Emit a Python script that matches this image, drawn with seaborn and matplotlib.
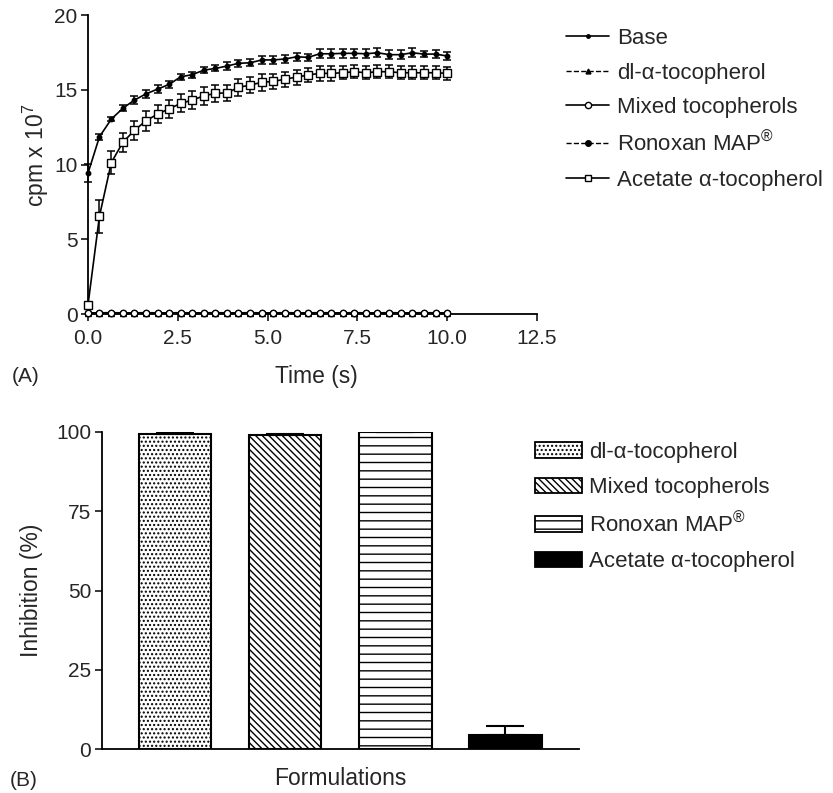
import numpy as np
import pandas as pd
import matplotlib
matplotlib.use("Agg")
import matplotlib.pyplot as plt
import seaborn as sns
from matplotlib.lines import Line2D
from matplotlib.patches import Patch

# ---------------- data ----------------
time_s = [0.00, 0.32, 0.65, 0.97, 1.29, 1.61, 1.94, 2.26, 2.58, 2.90,
          3.23, 3.55, 3.87, 4.19, 4.52, 4.84, 5.16, 5.48, 5.81, 6.13,
          6.45, 6.77, 7.10, 7.42, 7.74, 8.06, 8.39, 8.71, 9.03, 9.35,
          9.68, 10.00]

base_mean = [9.41, 11.86, 13.04, 13.76, 14.31, 14.72, 15.05, 15.36, 15.87, 16.01,
             16.32, 16.43, 16.59, 16.77, 16.81, 17.00, 17.00, 17.06, 17.21, 17.17,
             17.41, 17.41, 17.44, 17.44, 17.41, 17.48, 17.35, 17.35, 17.48, 17.39,
             17.39, 17.26]
base_sem = [0.60, 0.20, 0.15, 0.20, 0.25, 0.25, 0.25, 0.25, 0.20, 0.20,
            0.20, 0.20, 0.25, 0.25, 0.25, 0.25, 0.25, 0.25, 0.25, 0.25,
            0.30, 0.30, 0.30, 0.30, 0.30, 0.30, 0.30, 0.30, 0.30, 0.20,
            0.25, 0.25]

acetate_mean = [0.60, 6.55, 10.13, 11.48, 12.28, 12.92, 13.38, 13.73, 14.09, 14.31,
                14.60, 14.76, 14.80, 15.16, 15.32, 15.50, 15.56, 15.71, 15.85, 15.99,
                16.10, 16.10, 16.14, 16.21, 16.14, 16.21, 16.21, 16.14, 16.14, 16.14,
                16.14, 16.10]
acetate_sem = [0.20, 1.10, 0.75, 0.65, 0.65, 0.65, 0.60, 0.60, 0.60, 0.60,
               0.60, 0.55, 0.55, 0.55, 0.55, 0.55, 0.50, 0.50, 0.50, 0.50,
               0.50, 0.50, 0.45, 0.45, 0.45, 0.45, 0.45, 0.45, 0.45, 0.45,
               0.45, 0.45]

dl_mean = [0.05, 0.06, 0.05, 0.06, 0.05, 0.05, 0.06, 0.05, 0.06, 0.05,
           0.05, 0.06, 0.05, 0.06, 0.05, 0.05, 0.06, 0.05, 0.06, 0.05,
           0.05, 0.06, 0.05, 0.06, 0.05, 0.05, 0.06, 0.05, 0.06, 0.05,
           0.05, 0.06]
mixed_mean = [0.08, 0.08, 0.09, 0.08, 0.08, 0.09, 0.08, 0.08, 0.09, 0.08,
              0.08, 0.09, 0.08, 0.08, 0.09, 0.08, 0.08, 0.09, 0.08, 0.08,
              0.09, 0.08, 0.08, 0.09, 0.08, 0.08, 0.09, 0.08, 0.08, 0.09,
              0.08, 0.08]
ronoxan_mean = [0.04, 0.05, 0.04, 0.05, 0.04, 0.05, 0.04, 0.05, 0.04, 0.05,
                0.04, 0.05, 0.04, 0.05, 0.04, 0.05, 0.04, 0.05, 0.04, 0.05,
                0.04, 0.05, 0.04, 0.05, 0.04, 0.05, 0.04, 0.05, 0.04, 0.05,
                0.04, 0.05]

line_labels = ["Base", "dl-\u03b1-tocopherol", "Mixed tocopherols",
               r"Ronoxan MAP$^{\circledR}$", "Acetate \u03b1-tocopherol"]

formulations = ["dl-\u03b1-tocopherol", "Mixed tocopherols",
                r"Ronoxan MAP$^{\circledR}$", "Acetate \u03b1-tocopherol"]
inhibition = [99.4, 99.0, 99.8, 4.4]
inhibition_err = [0.2, 0.3, 0.1, 2.9]

x_ticks_top = [0.0, 2.5, 5.0, 7.5, 10.0, 12.5]
y_ticks_top = [0, 5, 10, 15, 20]
y_ticks_bot = [0, 25, 50, 75, 100]

# ---------------- style ----------------
sns.set_style("ticks")
plt.rcParams['font.family'] = ['Liberation Sans', 'DejaVu Sans']
plt.rcParams['mathtext.fontset'] = 'custom'
plt.rcParams['mathtext.rm'] = 'Liberation Sans'
plt.rcParams['mathtext.it'] = 'Liberation Sans:italic'
plt.rcParams['mathtext.bf'] = 'Liberation Sans:bold'
plt.rcParams['hatch.linewidth'] = 1.0

TICK_FS = 15
LABEL_FS = 16.5
LEG_FS = 16

fig = plt.figure(figsize=(8.33, 7.93), dpi=100)
ax1 = fig.add_axes([0.1056, 0.604, 0.539, 0.377])
ax2 = fig.add_axes([0.1221, 0.0551, 0.573, 0.4005])

# ---------------- top panel ----------------
series = [
    (base_mean, dict(marker='o', markersize=3.2, markerfacecolor='black', linestyle='-')),
    (dl_mean, dict(marker='^', markersize=3.8, markerfacecolor='black', linestyle='--')),
    (ronoxan_mean, dict(marker='o', markersize=4.2, markerfacecolor='black', linestyle='--')),
    (mixed_mean, dict(marker='o', markersize=4.6, markerfacecolor='white', linestyle='-')),
    (acetate_mean, dict(marker='s', markersize=5.3, markerfacecolor='white', linestyle='-')),
]
for vals, kw in series:
    sns.lineplot(x=time_s, y=vals, ax=ax1, color='black', linewidth=1.2,
                 markeredgecolor='black', markeredgewidth=1.0, errorbar=None,
                 clip_on=False, zorder=3, **kw)

ax1.errorbar(time_s, base_mean, yerr=base_sem, fmt='none', ecolor='black',
             elinewidth=1.1, capsize=2.6, capthick=1.1, clip_on=False, zorder=2)
ax1.errorbar(time_s, acetate_mean, yerr=acetate_sem, fmt='none', ecolor='black',
             elinewidth=1.1, capsize=2.6, capthick=1.1, clip_on=False, zorder=2)

ax1.set_xlim(0, 12.5)
ax1.set_ylim(0, 20)
ax1.set_xticks(x_ticks_top)
ax1.set_xticklabels([f"{v:.1f}" for v in x_ticks_top])
ax1.set_yticks(y_ticks_top)
ax1.set_xlabel("Time (s)", fontsize=LABEL_FS)
ax1.set_ylabel("cpm x 10$^{7}$", fontsize=LABEL_FS)
ax1.xaxis.set_label_coords(0.508, (314 - 376) / 299)
ax1.xaxis.label.set_va('center')
ax1.yaxis.set_label_coords((51 - 88) / 449, 0.53)
sns.despine(ax=ax1)

handles_top = [
    Line2D([], [], color='black', lw=1.2, ls='-', marker='o', ms=2.5, mfc='black', mec='black'),
    Line2D([], [], color='black', lw=1.0, ls='--', marker='^', ms=3.5, mfc='black', mec='black'),
    Line2D([], [], color='black', lw=1.2, ls='-', marker='o', ms=4.5, mfc='white', mec='black'),
    Line2D([], [], color='black', lw=1.0, ls='--', marker='o', ms=4.0, mfc='black', mec='black'),
    Line2D([], [], color='black', lw=1.2, ls='-', marker='s', ms=5.0, mfc='white', mec='black'),
]
fig.legend(handles_top, line_labels, loc='upper left',
           bbox_to_anchor=(566 / 833, 1 - 28 / 793), frameon=False,
           fontsize=LEG_FS, handlelength=1.95, handletextpad=0.36,
           labelspacing=0.61, borderpad=0, borderaxespad=0)

# ---------------- bottom panel ----------------
bar_colors = ['white', 'white', 'white', 'black']
sns.barplot(x=formulations, y=inhibition, hue=formulations, palette=bar_colors,
            legend=False, ax=ax2, width=0.66, edgecolor='black', linewidth=1.5,
            errorbar=None, saturation=1)
hatches = ['....', '\\\\\\\\\\', '--', None]
for p, h in zip(ax2.patches, hatches):
    if h:
        p.set_hatch(h)
ax2.errorbar([0, 1, 2, 3], inhibition,
             yerr=[[0, 0, 0, 0], inhibition_err], fmt='none', ecolor='black',
             elinewidth=1.5, capsize=13.5, capthick=1.5, zorder=3)

ax2.set_xlim(-0.667, 3.67)
ax2.set_ylim(0, 100)
ax2.set_yticks(y_ticks_bot)
ax2.set_xticks([])
ax2.set_xlabel("Formulations", fontsize=LABEL_FS)
ax2.set_ylabel("Inhibition (%)", fontsize=LABEL_FS)
ax2.xaxis.set_label_coords(0.5, (749.3 - 778) / 317.6)
ax2.xaxis.label.set_va('center')
ax2.yaxis.set_label_coords((43 - 101.7) / 477.3, 0.5)
sns.despine(ax=ax2)

handles_bot = [Patch(facecolor=c, edgecolor='black', hatch=h, linewidth=1.3)
               for c, h in zip(bar_colors, hatches)]
fig.legend(handles_bot, formulations, loc='upper left',
           bbox_to_anchor=(535 / 833, 1 - 442 / 793), frameon=False,
           fontsize=LEG_FS, handlelength=2.1, handleheight=0.7, handletextpad=0.33,
           labelspacing=0.64, borderpad=0, borderaxespad=0)

for ax in (ax1, ax2):
    ax.tick_params(axis='both', labelsize=TICK_FS, length=5, width=1.3, direction='out')
    ax.tick_params(axis='y', pad=2.5)
    for s in ('left', 'bottom'):
        ax.spines[s].set_linewidth(1.3)
        ax.spines[s].set_color('black')
ax1.tick_params(axis='x', pad=5.5)

fig.text(12 / 833, 1 - 376 / 793, "(A)", fontsize=15, va='center', ha='left')
fig.text(10 / 833, 1 - 780 / 793, "(B)", fontsize=15, va='center', ha='left')

fig.savefig("out.png", dpi=100)
